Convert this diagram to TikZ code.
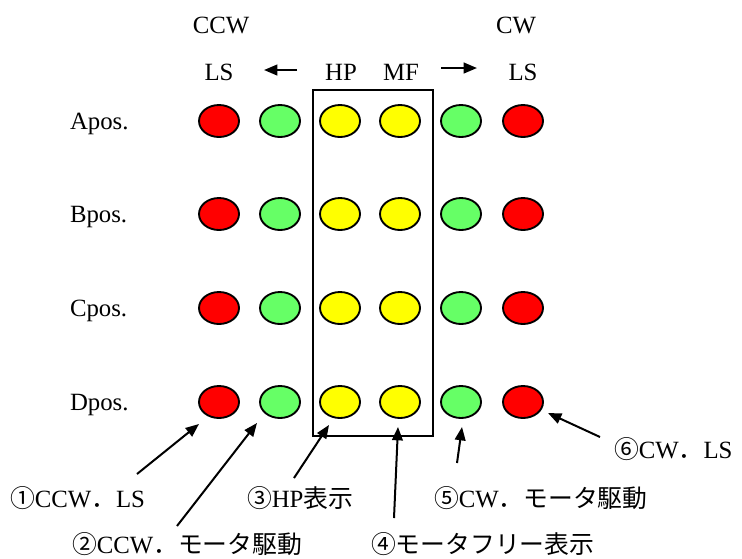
\documentclass[tikz,border=0pt]{standalone}
\usepackage{fontspec}
\setmainfont{Liberation Serif}
\newfontfamily\jp{Noto Sans CJK JP}
\usetikzlibrary{arrows.meta,shapes.geometric}
\definecolor{ledred}{HTML}{FF0000}
\definecolor{ledgreen}{HTML}{66FF66}
\definecolor{ledyellow}{HTML}{FFFF00}
\begin{document}
\begin{tikzpicture}[x=0.75pt,y=-0.75pt,
  txt/.style={inner sep=0pt,outer sep=0pt,font=\fontsize{18.6}{20}\selectfont},
  led/.style={ellipse,draw=black,line width=1.4pt,minimum width=30pt,minimum height=24pt,inner sep=0pt},
  redled/.style={led,fill=ledred},
  greenled/.style={led,fill=ledgreen},
  yellowled/.style={led,fill=ledyellow},
  frame/.style={draw=black,line width=1.4pt},
  arr/.style={line width=1.5pt,-{Triangle[length=10pt,width=8pt]}},
  toparr/.style={line width=1.6pt,-{Triangle[length=10pt,width=8pt]}}]
\useasboundingbox (0,0) rectangle (742,558);
% header texts
\node[txt,anchor=base] (ccw) at (221,33) {CCW};
\node[txt,anchor=base] (cw) at (516,33) {CW};
\node[txt,anchor=base] (lsl) at (219,80) {LS};
\node[txt,anchor=base] (hp) at (341,80) {HP};
\node[txt,anchor=base] (mf) at (401,80) {MF};
\node[txt,anchor=base] (lsr) at (523,80) {LS};
\coordinate (la1) at (297,70);
\coordinate (la2) at (264,70);
\coordinate (ra1) at (441,68);
\coordinate (ra2) at (477,68);
\draw[toparr] (la1) -- (la2);
\draw[toparr] (ra1) -- (ra2);
% frame
\node[frame,minimum width=90pt,minimum height=259.5pt,inner sep=0pt,anchor=north west] (box) at (312,89) {};
% rows
\foreach \r/\lab/\yy in {A/Apos./121,B/Bpos./214,C/Cpos./308,D/Dpos./402}{
  \node[txt,anchor=base west] (row\r) at (70,\yy+8) {\lab};
  \node[redled] (\r1) at (219,\yy) {};
  \node[greenled] (\r2) at (280,\yy) {};
  \node[yellowled] (\r3) at (340,\yy) {};
  \node[yellowled] (\r4) at (400,\yy) {};
  \node[greenled] (\r5) at (461,\yy) {};
  \node[redled] (\r6) at (523,\yy) {};
}
% bottom labels
\node[txt,anchor=base west] (l1) at (10,507) {{\jp ①}CCW{\jp ．}LS};
\node[txt,anchor=base west] (l2) at (72,553) {{\jp ②}CCW{\jp ．モータ駆動}};
\node[txt,anchor=base west] (l3) at (247,507) {{\jp ③}HP{\jp 表示}};
\node[txt,anchor=base west] (l4) at (371,553) {{\jp ④モータフリー表示}};
\node[txt,anchor=base west] (l5) at (434,507) {{\jp ⑤}CW{\jp ．モータ駆動}};
\node[txt,anchor=base west] (l6) at (614,458) {{\jp ⑥}CW{\jp ．}LS};
% connectors
\draw[arr] ([shift={(127,-33)}]l1.base west) -- ([shift={(-20,22)}]D1.center);
\draw[arr] ([shift={(105,-27)}]l2.base west) -- ([shift={(-23,21)}]D2.center);
\draw[arr] ([shift={(47,-29)}]l3.base west) -- ([shift={(-11,23)}]D3.center);
\draw[arr] ([shift={(23,-35)}]l4.base west) -- ([shift={(-2,25)}]D4.center);
\draw[arr] ([shift={(23,-44)}]l5.base west) -- ([shift={(1,25)}]D5.center);
\draw[arr] ([shift={(-14,-21)}]l6.base west) -- ([shift={(25,11)}]D6.center);
\end{tikzpicture}
\end{document}
